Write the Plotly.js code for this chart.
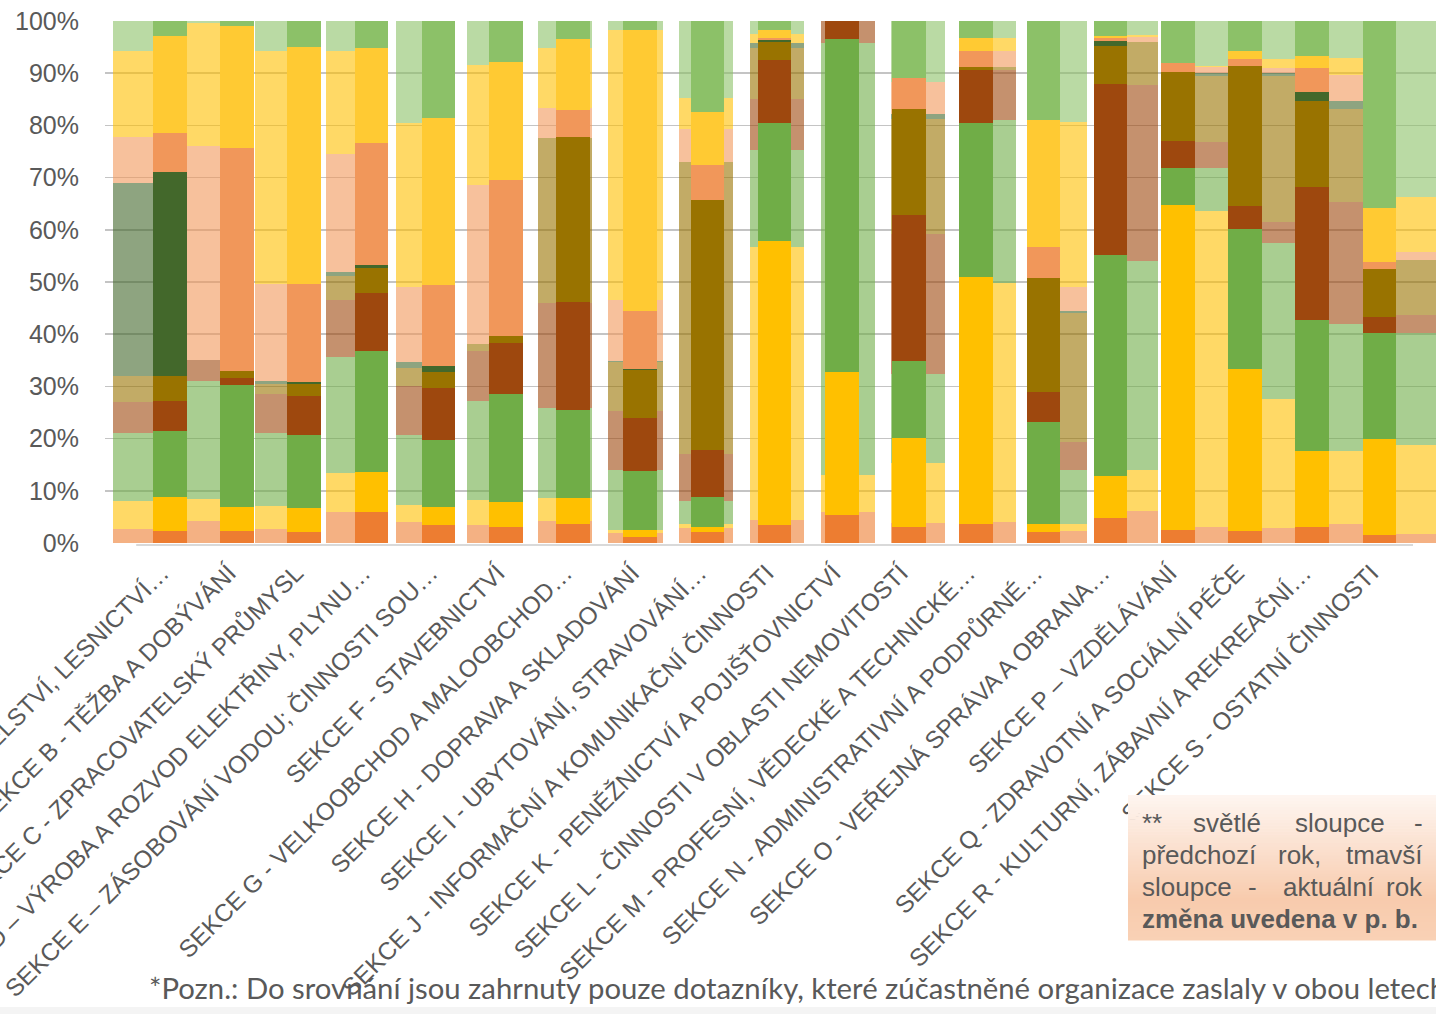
<!DOCTYPE html>
<html>
<head>
<meta charset="utf-8">
<script src="https://cdn.plot.ly/plotly-3.0.1.min.js"></script>
<style>html,body{margin:0;padding:0;background:#fff;}#chart{width:1436px;height:1014px;}</style>
</head>
<body>
<div id="chart"></div>
<script>
// Categories (tick labels)
const categories = [
  "SEKCE A - ZEMĚDĚLSTVÍ, LESNICTVÍ\u2026",
  "SEKCE B - TĚŽBA A DOBÝVÁNÍ",
  "SEKCE C - ZPRACOVATELSKÝ PRŮMYSL",
  "SEKCE D \u2013 VÝROBA A ROZVOD ELEKTŘINY, PLYNU\u2026",
  "SEKCE E \u2013 ZÁSOBOVÁNÍ VODOU; ČINNOSTI SOU\u2026",
  "SEKCE F - STAVEBNICTVÍ",
  "SEKCE G - VELKOOBCHOD A MALOOBCHOD\u2026",
  "SEKCE H - DOPRAVA A SKLADOVÁNÍ",
  "SEKCE I - UBYTOVÁNÍ, STRAVOVÁNÍ\u2026",
  "SEKCE J - INFORMAČNÍ A KOMUNIKAČNÍ ČINNOSTI",
  "SEKCE K - PENĚŽNICTVÍ A POJIŠŤOVNICTVÍ",
  "SEKCE L - ČINNOSTI V OBLASTI NEMOVITOSTÍ",
  "SEKCE M - PROFESNÍ, VĚDECKÉ A TECHNICKÉ\u2026",
  "SEKCE N - ADMINISTRATIVNÍ A PODPŮRNÉ\u2026",
  "SEKCE O - VEŘEJNÁ SPRÁVA A OBRANA\u2026",
  "SEKCE P \u2013 VZDĚLÁVÁNÍ",
  "SEKCE Q - ZDRAVOTNÍ A SOCIÁLNÍ PÉČE",
  "SEKCE R - KULTURNÍ, ZÁBAVNÍ A REKREAČNÍ\u2026",
  "SEKCE S - OSTATNÍ ČINNOSTI"
];

// Current year (dark bars), share in % per series, bottom to top
const cur1 = [2.3,2.3,2.1,6.0,3.4,3.1,3.6,1.2,2.1,3.4,5.3,3.1,3.6,2.1,4.7,2.5,2.3,3.1,1.6];
const cur2 = [6.6,4.6,4.6,7.6,3.5,4.8,5.0,1.2,1.0,54.4,27.4,17.1,47.4,1.5,8.2,62.2,31.0,14.6,18.4];
const cur3 = [12.5,23.3,14.0,23.1,12.9,20.6,16.8,11.3,5.8,22.6,63.9,14.6,29.5,19.5,42.2,7.2,26.9,25.0,20.3];
const cur4 = [5.8,1.4,7.4,11.2,9.8,9.8,20.7,10.2,8.9,12.2,3.4,28.0,10.2,5.9,32.9,5.1,4.3,25.5,3.0];
const cur5 = [4.8,1.3,2.4,4.8,3.1,1.3,31.7,9.2,48.0,3.3,0,20.3,0.5,21.8,7.3,13.3,26.9,16.5,9.2];
const cur6 = [39.1,0,0.4,0.5,1.3,0,0,0.2,0,0.5,0,0,0,0,0.9,0,0,1.7,0];
const cur7 = [7.5,42.7,18.7,23.5,15.4,29.9,5.2,11.1,6.6,0.4,0,5.9,3.1,6.0,0.6,1.6,1.3,4.6,1.3];
const cur8 = [18.5,23.4,45.4,18.2,32.1,22.7,13.6,53.8,10.2,1.4,0,0,2.4,24.3,0.4,0,1.5,2.3,10.3];
const cur9 = [2.9,1.0,5.0,5.1,18.5,7.8,3.4,1.8,17.4,1.8,0,11.0,3.3,18.9,2.8,8.1,5.8,6.7,35.9];

// Previous year (light bars)
const prev1 = [2.7,4.3,2.7,6.0,4.1,3.4,4.3,1.9,2.9,4.5,6.0,3.8,4.0,2.3,6.2,3.1,2.9,3.6,1.7];
const prev2 = [5.4,4.1,4.3,7.5,3.1,4.8,4.4,0.5,0.7,52.3,7.0,11.5,45.9,1.3,7.7,60.5,24.7,14.0,17.0];
const prev3 = [13.0,22.6,14.1,22.2,13.5,19.0,17.2,11.5,4.4,18.4,82.8,17.1,31.2,10.4,40.1,8.3,29.8,24.4,21.6];
const prev4 = [6.0,4.1,7.4,10.8,9.3,9.5,20.0,11.3,9.1,9.8,4.2,26.8,9.6,5.4,33.8,4.9,4.1,23.3,3.3];
const prev5 = [4.9,0,2.0,4.6,3.6,1.5,31.7,9.4,55.9,9.8,0,22.1,0.5,24.6,8.1,12.7,28.0,17.9,10.7];
const prev6 = [36.9,0,0.5,0.8,1.0,0,0,0.2,0,0.9,0,0.9,0,0.4,0,0.5,0.5,1.5,0];
const prev7 = [8.9,40.9,18.6,22.7,14.4,30.4,5.7,11.8,6.4,0,0,6.1,3.1,4.6,1.0,1.1,1.0,5.0,1.4];
const prev8 = [16.5,23.7,44.6,19.7,31.5,23.0,11.5,51.7,5.8,1.9,0,0,2.4,31.6,0.4,0.3,1.7,3.2,10.6];
const prev9 = [5.7,0.3,5.8,5.7,19.5,8.4,5.2,1.7,14.8,2.4,0,11.7,3.3,19.4,2.7,8.6,7.3,7.1,33.7];

const yTicks = [0,10,20,30,40,50,60,70,80,90,100];
const yTickText = ['0%','10%','20%','30%','40%','50%','60%','70%','80%','90%','100%'];

// ---- styles ----
const curColors  = ['#ED7D31','#FFC000','#70AD47','#9E480E','#997300','#43682B','#F1975A','#FFCA33','#8CC168'];
const prevColors = ['#ED7D31','#FFC000','#70AD47','#9E480E','#997300','#43682B','#F1975A','#FFC000','#8CC168'];
const curSeries  = [cur1,cur2,cur3,cur4,cur5,cur6,cur7,cur8,cur9];
const prevSeries = [prev1,prev2,prev3,prev4,prev5,prev6,prev7,prev8,prev9];
const idx = categories.map((_, i) => i);

const traces = [];
prevSeries.forEach((s, k) => {
  traces.push({type:'bar', x: idx, y: s, xaxis:'x', yaxis:'y', width:0.764,
    marker:{color: prevColors[k], opacity:0.6, line:{width:0}}, hoverinfo:'skip', showlegend:false});
});
curSeries.forEach((s, k) => {
  traces.push({type:'bar', x: idx, y: s, xaxis:'x2', yaxis:'y', width:0.5,
    marker:{color: curColors[k], line:{width:0}}, hoverinfo:'skip', showlegend:false});
});

// pixel helpers (layout only)
const PL=105, PR=1436, PT=21, PB=543;
const px = x => (x-PL)/(PR-PL);
const py = y => (PB-y)/(PB-PT);

const shapes = [];
shapes.push({type:'line', xref:'x2', yref:'paper', x0:-0.5, x1:18.5, y0:py(545), y1:py(545),
  line:{color:'#D9D9D9', width:2}, layer:'above'});
shapes.push({type:'rect', xref:'paper', yref:'paper', x0:px(0), x1:px(1436), y0:py(1007), y1:py(1014),
  fillcolor:'#F4F4F4', line:{width:0}, layer:'above'});
function hex2rgb(h){return [parseInt(h.substr(1,2),16),parseInt(h.substr(3,2),16),parseInt(h.substr(5,2),16)];}
const gstops = [[0,'#FEF6F1'],[0.72,'#F8CBAD'],[1,'#F9D1B5']];
function gcol(t){
  for(let i=0;i<gstops.length-1;i++){
    const [a,ca]=gstops[i],[b,cb]=gstops[i+1];
    if(t>=a && t<=b){const f=(t-a)/(b-a);const A=hex2rgb(ca),B=hex2rgb(cb);
      return 'rgb('+A.map((v,j)=>Math.round(v+(B[j]-v)*f)).join(',')+')';}
  }
  return gstops[gstops.length-1][1];
}
const bx0=1128, bx1=1436, by0=795, by1=940, nStrips=48;
for(let i=0;i<nStrips;i++){
  const ya = by0 + (by1-by0)*i/nStrips, yb = by0 + (by1-by0)*(i+1)/nStrips + 0.6;
  shapes.push({type:'rect', xref:'paper', yref:'paper', x0:px(bx0), x1:px(bx1), y0:py(yb), y1:py(ya),
    fillcolor:gcol((i+0.5)/nStrips), line:{width:0}, layer:'above'});
}

const noteFont = {family:'"Liberation Sans", Arial, sans-serif', size:26, color:'#595959'};
const words = [
  ['**',1140,823,'left'],['světlé',1227,823,'center'],['sloupce',1340,823,'center'],['-',1425,823,'right'],
  ['předchozí',1140,855,'left'],['rok,',1299,855,'center'],['tmavší',1425,855,'right'],
  ['sloupce',1140,887,'left'],['-',1252,887,'center'],['aktuální',1329,887,'center'],['rok',1425,887,'right'],
  ['<b>změna uvedena v p. b.</b>',1140,919,'left']
];
const annotations = words.map(w => ({xref:'paper', yref:'paper', x:px(w[1]), y:py(w[2]), text:w[0],
  xanchor:w[3], yanchor:'middle', showarrow:false, font:noteFont}));
annotations.push({xref:'paper', yref:'paper', x:px(147), y:py(988), xanchor:'left', yanchor:'middle',
  text:'*Pozn.: Do srovnání jsou zahrnuty pouze dotazníky, které zúčastněné organizace zaslaly v obou letech',
  showarrow:false, font:{family:'Lato, "Open Sans", sans-serif', size:29.3, color:'#595959'}});

const layout = {
  width:1436, height:1014,
  margin:{l:PL, r:1436-PR, t:PT, b:1014-PB, pad:0},
  paper_bgcolor:'#ffffff', plot_bgcolor:'#ffffff',
  barmode:'stack', bargap:0,
  showlegend:false, hovermode:false,
  font:{family:'"Liberation Sans", Arial, sans-serif', color:'#595959', size:25},
  xaxis:{range:[-0.502, 18.32], showgrid:false, zeroline:false, showticklabels:false, ticks:'', showline:false, fixedrange:true},
  xaxis2:{overlaying:'x', anchor:'y', side:'bottom', range:[-0.964, 18.842], showgrid:false, zeroline:false,
    tickmode:'array', tickvals:idx, ticktext:categories, tickangle:-45, ticks:'', showline:false,
    ticklabeloverflow:'allow', ticklabelstandoff:10, ticklabelshift:-8,
    tickfont:{family:'"Liberation Sans", Arial, sans-serif', size:24.3, color:'#595959'}, automargin:false, fixedrange:true},
  yaxis:{range:[0,100], tickmode:'array', tickvals:yTicks, ticktext:yTickText, showgrid:true, gridcolor:'#C4C4C4', gridwidth:1.5,
    zeroline:false, showline:false, ticks:'', ticklabelstandoff:25,
    tickfont:{family:'"Liberation Sans", Arial, sans-serif', size:25, color:'#595959'}, automargin:false, fixedrange:true},
  shapes: shapes,
  annotations: annotations
};

Plotly.newPlot('chart', traces, layout, {staticPlot:true, displayModeBar:false});
</script>
</body>
</html>
